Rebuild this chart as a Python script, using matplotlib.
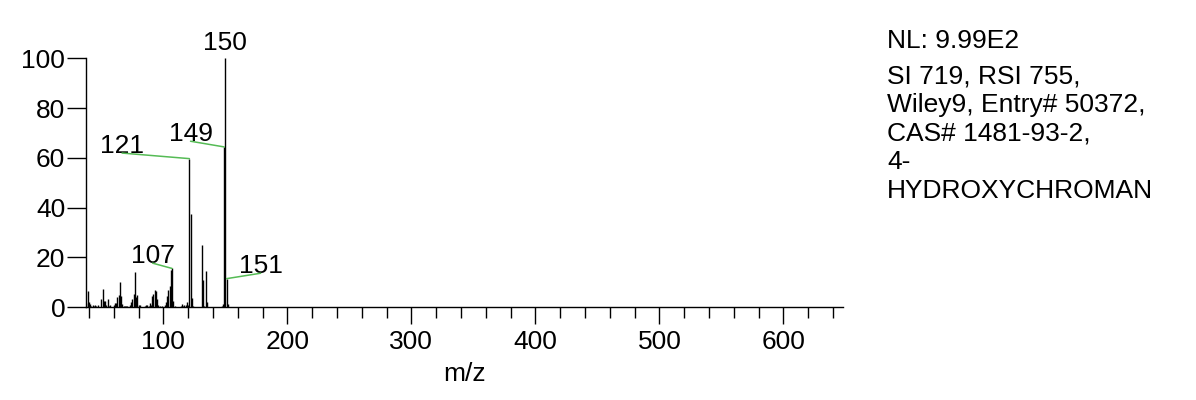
import matplotlib
matplotlib.use('Agg')
import matplotlib.pyplot as plt

plt.rcParams['font.family'] = ['Liberation Sans', 'DejaVu Sans']

# spectrum (m/z, relative abundance)
mz = [38, 39, 40, 41, 42, 43, 44, 45, 46, 47,
      50, 51, 52, 53, 54, 55, 56, 57, 58,
      60, 61, 62, 63, 64, 65, 66, 67, 68, 69, 70, 71, 72, 73,
      74, 75, 76, 77, 78, 79, 80, 81, 82, 83, 84, 85, 86, 87, 88, 89, 90,
      91, 92, 93, 94, 95, 96, 97, 98, 99, 100,
      101, 102, 103, 104, 105, 106, 107, 108, 109, 110, 111, 112, 113, 114,
      115, 116, 117, 118, 119, 120, 121, 122, 123, 124, 125, 126, 127, 128, 129, 130,
      131, 132, 133, 134, 135, 136, 147, 148, 149, 150, 151, 152]
intensity = [1.8, 6.4, 2.2, 1.5, 0.6, 1.0, 0.5, 1.0, 0.5, 0.8,
             3.2, 7.2, 2.5, 2.5, 0.8, 3.3, 0.6, 0.8, 0.3,
             0.8, 1.8, 1.8, 4.2, 4.8, 10.2, 4.5, 1.3, 0.5, 0.5, 0.4, 0.6, 0.3, 0.8,
             2.0, 3.5, 5.5, 14.2, 4.0, 4.8, 1.0, 0.8, 0.3, 0.3, 0.3, 0.5, 0.8, 0.8, 0.5, 1.6, 0.8,
             4.6, 5.2, 6.8, 6.5, 3.2, 1.0, 0.5, 0.3, 0.5, 0.3,
             1.0, 2.0, 4.5, 7.0, 8.5, 15.0, 15.6, 2.5, 0.5, 0.3, 0.3, 0.3, 0.3, 0.5,
             1.2, 0.5, 0.8, 1.0, 2.2, 1.0, 59.7, 37.5, 3.7, 0.5, 0.3, 0.3, 0.3, 0.3, 0.3, 0.3,
             25.0, 11.0, 0.5, 14.6, 2.0, 0.3, 0.5, 1.5, 64.4, 100.0, 11.5, 1.5]

labeled = [107, 121, 149, 150, 151]
x_ticks = [100, 200, 300, 400, 500, 600]
y_ticks = [0, 20, 40, 60, 80, 100]

info_head = "NL: 9.99E2"
info_lines = ["SI 719, RSI 755,", "Wiley9, Entry# 50372,", "CAS# 1481-93-2,", "4-", "HYDROXYCHROMAN"]

# label offsets in points (text anchor relative to peak top)
label_offsets = {107: (-14, 3.8), 121: (-48.5, 4.0), 149: (-24.2, 4.1), 150: (0, 6.0), 151: (24.5, 3.9)}
leader_color = '#55bb55'
fs = 19

fig = plt.figure(figsize=(11.96, 4.0), dpi=100)
ax = fig.add_axes([0.0717, 0.2318, 0.7048 - 0.0717, 0.8543 - 0.2318])

ax.vlines(mz, 0, intensity, color='black', linewidth=1.0)

ax.set_xlim(37.4, 648)
ax.set_ylim(0, 100)
for s in ['top', 'right']:
    ax.spines[s].set_visible(False)
for s in ['left', 'bottom']:
    ax.spines[s].set_linewidth(1.0)

ax.set_xticks(x_ticks)
ax.set_xticks(range(40, 641, 20), minor=True)
ax.set_yticks(y_ticks)
ax.tick_params(axis='x', which='major', direction='out', length=12.5, width=1.0,
               labelsize=fs, pad=3.5)
ax.tick_params(axis='x', which='minor', direction='out', length=7.9, width=1.0)
ax.tick_params(axis='y', which='major', direction='out', length=13.7, width=1.0,
               labelsize=fs, pad=1)
ax.set_xlabel('m/z', fontsize=fs, labelpad=6)

peaks = dict(zip(mz, intensity))
for m in labeled:
    off = label_offsets[m]
    ax.annotate(str(m), xy=(m, peaks[m]), xytext=off, textcoords='offset points',
                ha='center', va='baseline', fontsize=fs, annotation_clip=False)
    if m != 150:
        ax.annotate('', xy=(m, peaks[m]), xytext=off, textcoords='offset points',
                    annotation_clip=False,
                    arrowprops=dict(arrowstyle='-', color=leader_color, lw=1.1,
                                    shrinkA=0, shrinkB=0))

x_info = 887 / 1196
fig.text(x_info, 1 - 48.3 / 400, info_head, fontsize=fs, va='baseline', ha='left')
for i, line in enumerate(info_lines):
    fig.text(x_info, 1 - (83.3 + 28.7 * i) / 400, line, fontsize=fs, va='baseline', ha='left')

fig.savefig('out.png', dpi=100)
